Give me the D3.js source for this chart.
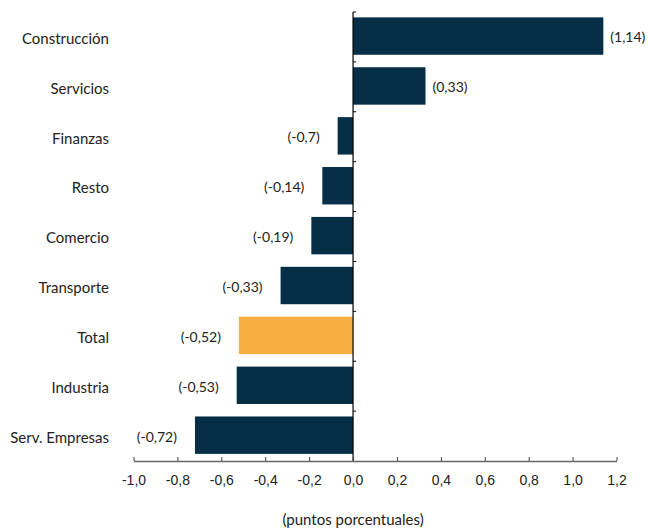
<!DOCTYPE html>
<html lang="es">
<head>
    <meta charset="UTF-8">
    <title>Contribución por sector</title>
    <script src="https://d3js.org/d3.v7.min.js"></script>
    <style>
        body, html {
            margin: 0;
            padding: 0;
            background: #fff;
            overflow: hidden;
        }
        svg {
            display: block;
            font-family: Lato, "Noto Sans", sans-serif;
        }
        .axis text {
            font-size: 14px;
            fill: #222;
        }
    </style>
</head>
<body>
    <svg width="648" height="529"></svg>
    <script>
        const width = 648, height = 529;

        // data
        const sectores = ["Construcción", "Servicios", "Finanzas", "Resto", "Comercio",
                          "Transporte", "Total", "Industria", "Serv. Empresas"];
        const valores = [1.14, 0.33, -0.07, -0.14, -0.19, -0.33, -0.52, -0.53, -0.72];
        const etiquetas = ["(1,14)", "(0,33)", "(-0,7)", "(-0,14)", "(-0,19)",
                           "(-0,33)", "(-0,52)", "(-0,53)", "(-0,72)"];
        const ticks = [-1.0, -0.8, -0.6, -0.4, -0.2, 0.0, 0.2, 0.4, 0.6, 0.8, 1.0, 1.2];
        const tituloX = "(puntos porcentuales)";

        const data = sectores.map((s, i) => ({ sector: s, value: valores[i], label: etiquetas[i] }));

        const svg = d3.select("svg");
        const plotTop = 12, axisY = 461;

        const x = d3.scaleLinear().domain([-1.0, 1.2]).range([133.5, 616.5]);
        const y = d3.scaleBand().domain(sectores).range([plotTop, axisY])
            .paddingInner(0.25).paddingOuter(0.125).align(0.43);
        // band edges, for the little ticks on the zero line
        const yEdge = d3.scaleBand().domain(sectores).range([plotTop, axisY]);

        const fmt = d => d.toFixed(1).replace(".", ",");
        const mid = d => y(d.sector) + y.bandwidth() / 2;

        // bars
        svg.append("g")
            .selectAll("rect")
            .data(data)
            .enter().append("rect")
            .attr("x", d => x(Math.min(0, d.value)))
            .attr("y", d => y(d.sector))
            .attr("width", d => Math.abs(x(d.value) - x(0)))
            .attr("height", y.bandwidth())
            .attr("fill", d => d.sector === "Total" ? "#f8ae40" : "#062e47");

        // value labels
        svg.append("g")
            .selectAll("text")
            .data(data)
            .enter().append("text")
            .attr("x", d => d.value >= 0 ? x(d.value) + 7 : x(d.value) - 18)
            .attr("y", d => mid(d) + 1.5)
            .attr("dy", "0.35em")
            .attr("text-anchor", d => d.value >= 0 ? "start" : "end")
            .style("font-size", "14px")
            .style("fill", "#222")
            .text(d => d.label);

        // category labels
        svg.append("g")
            .selectAll("text")
            .data(data)
            .enter().append("text")
            .attr("x", 109)
            .attr("y", d => mid(d) + 2.5)
            .attr("dy", "0.35em")
            .attr("text-anchor", "end")
            .style("font-size", "15px")
            .style("fill", "#222")
            .text(d => d.sector);

        // zero line with small ticks between categories
        const zero = svg.append("g").attr("transform", `translate(${x(0)},0)`);
        zero.append("line")
            .attr("y1", plotTop).attr("y2", axisY)
            .attr("stroke", "#000").attr("stroke-width", 1.2);
        zero.selectAll(".sep")
            .data(sectores)
            .enter().append("line")
            .attr("class", "sep")
            .attr("x1", 0).attr("x2", 3)
            .attr("y1", d => yEdge(d))
            .attr("y2", d => yEdge(d))
            .attr("stroke", "#000");

        // x axis
        const xAxis = d3.axisBottom(x).tickValues(ticks).tickFormat(fmt)
            .tickSize(-4).tickPadding(14).tickSizeOuter(0);
        const gx = svg.append("g")
            .attr("class", "axis")
            .attr("transform", `translate(0,${axisY})`)
            .call(xAxis);
        gx.select(".domain").attr("stroke", "#666").attr("stroke-width", 1.3);
        gx.selectAll(".tick line").attr("stroke", "#444");

        svg.append("text")
            .attr("x", x(0))
            .attr("y", 525)
            .attr("text-anchor", "middle")
            .style("font-size", "15px")
            .style("fill", "#222")
            .text(tituloX);
    </script>
</body>
</html>
